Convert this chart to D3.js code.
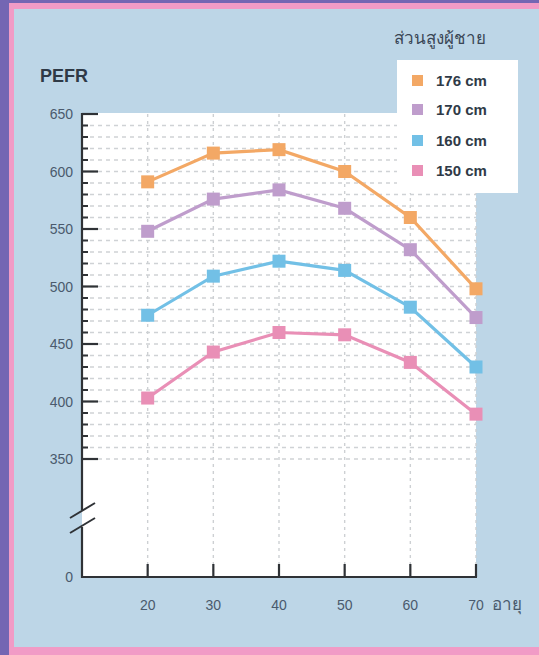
<!DOCTYPE html>
<html><head><meta charset="utf-8">
<script src="https://cdn.jsdelivr.net/npm/d3@7"></script>
<style>
html,body{margin:0;padding:0;background:#7466b3;}
svg{display:block;}
</style></head>
<body>
<svg id="chart" width="539" height="655"></svg>
<script>
const ages = [20, 30, 40, 50, 60, 70];
const seriesNames = ["176 cm", "170 cm", "160 cm", "150 cm"];
const seriesColors = ["#f3a865", "#bf9dcc", "#72c0e6", "#e98fb6"];
const values176 = [591, 616, 619, 600, 560, 498];
const values170 = [548, 576, 584, 568, 532, 473];
const values160 = [475, 509, 522, 514, 482, 430];
const values150 = [403, 443, 460, 458, 434, 389];
const yTickLabels = [0, 350, 400, 450, 500, 550, 600, 650];
const yTitle = "PEFR";
const xTitle = "อายุ";
const legendTitle = "ส่วนสูงผู้ชาย";

const seriesValues = [values176, values170, values160, values150];

const svg = d3.select("#chart");
const font = "'Liberation Sans', Arial, sans-serif";

// Frame
svg.append("rect").attr("x", 0).attr("y", 0).attr("width", 539).attr("height", 655).attr("fill", "#7466b3");
svg.append("rect").attr("x", 9).attr("y", 3).attr("width", 530).attr("height", 652).attr("fill", "#f19bc6");
svg.append("rect").attr("x", 14).attr("y", 9).attr("width", 525).attr("height", 638).attr("fill", "#bdd6e7");

const x = d3.scaleLinear().domain([10, 70]).range([82, 476]);
const y = d3.scaleLinear().domain([0, 350, 650]).range([577, 459, 114]);

// Plot background
svg.append("rect").attr("x", x(10)).attr("y", y(650) - 1)
  .attr("width", x(70) - x(10)).attr("height", y(0) - y(650) + 1).attr("fill", "#ffffff");

// Horizontal grid (every 10 from 350 to 640)
const gridVals = d3.range(350, 650, 10);
svg.append("g").selectAll("line").data(gridVals).join("line")
  .attr("x1", x(10)).attr("x2", x(70))
  .attr("y1", d => y(d)).attr("y2", d => y(d))
  .attr("stroke", "#cfd2d5").attr("stroke-width", 1.4)
  .attr("stroke-dasharray", "4,4");

// Vertical grid
svg.append("g").selectAll("line").data(ages).join("line")
  .attr("x1", d => x(d)).attr("x2", d => x(d))
  .attr("y1", y(650)).attr("y2", y(0))
  .attr("stroke", "#cdd0d3").attr("stroke-width", 1.4)
  .attr("stroke-dasharray", "3,4");

// Series lines and markers
const line = d3.line().x((d, i) => x(ages[i])).y(d => y(d));
seriesValues.forEach((vals, si) => {
  svg.append("path").datum(vals).attr("d", line)
    .attr("fill", "none").attr("stroke", seriesColors[si]).attr("stroke-width", 3.2);
  svg.append("g").selectAll("rect").data(vals).join("rect")
    .attr("x", (d, i) => x(ages[i]) - 6.5).attr("y", d => y(d) - 6.5)
    .attr("width", 13).attr("height", 13).attr("fill", seriesColors[si]);
});

// Axes
const axisColor = "#2f3236";
svg.append("line").attr("x1", x(10)).attr("x2", x(10)).attr("y1", y(650) - 1).attr("y2", 510)
  .attr("stroke", axisColor).attr("stroke-width", 2.2);
svg.append("line").attr("x1", x(10)).attr("x2", x(10)).attr("y1", 527).attr("y2", y(0) + 1)
  .attr("stroke", axisColor).attr("stroke-width", 2.2);
svg.append("line").attr("x1", x(10) - 1).attr("x2", x(70) + 1).attr("y1", y(0)).attr("y2", y(0))
  .attr("stroke", axisColor).attr("stroke-width", 2.2);

// Break marks
[0, 15].forEach(dy => {
  svg.append("line").attr("x1", 70).attr("y1", 518 + dy).attr("x2", 95).attr("y2", 503 + dy)
    .attr("stroke", axisColor).attr("stroke-width", 2);
});

// Y ticks: minor every 10, major at labels
const minorVals = d3.range(360, 650, 10).filter(v => v % 50 !== 0);
svg.append("g").selectAll("line").data(minorVals).join("line")
  .attr("x1", x(10)).attr("x2", x(10) + 6)
  .attr("y1", d => y(d)).attr("y2", d => y(d))
  .attr("stroke", axisColor).attr("stroke-width", 2);
svg.append("g").selectAll("line").data(yTickLabels.filter(v => v >= 350)).join("line")
  .attr("x1", x(10)).attr("x2", x(10) + 16)
  .attr("y1", d => y(d)).attr("y2", d => y(d))
  .attr("stroke", axisColor).attr("stroke-width", 2.2);

// X ticks
svg.append("g").selectAll("line").data(ages).join("line")
  .attr("x1", d => x(d)).attr("x2", d => x(d))
  .attr("y1", y(0)).attr("y2", y(0) - 13)
  .attr("stroke", axisColor).attr("stroke-width", 2.2);

// Y labels
svg.append("g").selectAll("text").data(yTickLabels).join("text")
  .attr("x", 73).attr("y", d => y(d) + 5)
  .attr("text-anchor", "end").attr("font-family", font).attr("font-size", 14)
  .attr("fill", "#4a5a6d").text(d => d);

// X labels
svg.append("g").selectAll("text").data(ages).join("text")
  .attr("x", d => x(d)).attr("y", 610)
  .attr("text-anchor", "middle").attr("font-family", font).attr("font-size", 14)
  .attr("fill", "#4a5a6d").text(d => d);
svg.append("text").attr("x", 492).attr("y", 610).attr("font-family", font).attr("font-size", 17)
  .attr("fill", "#4a5a6d").text(xTitle);

// Y title
svg.append("text").attr("x", 40).attr("y", 82).attr("font-family", font).attr("font-size", 18)
  .attr("font-weight", "bold").attr("fill", "#2f3a47").text(yTitle);

// Legend
svg.append("text").attr("x", 394).attr("y", 44).attr("font-family", font).attr("font-size", 17)
  .attr("fill", "#3a4656").text(legendTitle);
svg.append("rect").attr("x", 397).attr("y", 60).attr("width", 121).attr("height", 133)
  .attr("fill", "#ffffff");
const legendY = [81, 110, 141, 171];
seriesNames.forEach((name, i) => {
  svg.append("rect").attr("x", 412).attr("y", legendY[i] - 6).attr("width", 11).attr("height", 11)
    .attr("fill", seriesColors[i]);
  svg.append("text").attr("x", 436).attr("y", legendY[i] + 5).attr("font-family", font)
    .attr("font-size", 15).attr("font-weight", "bold").attr("fill", "#2f3a47").text(name);
});
</script>
</body></html>
